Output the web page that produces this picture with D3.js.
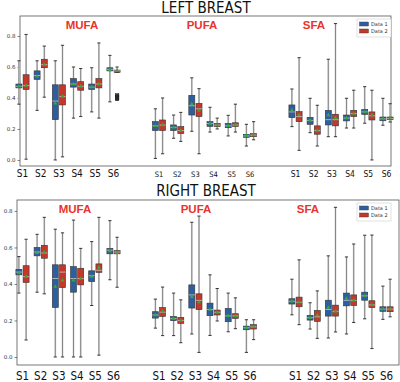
<!DOCTYPE html>
<html>
<head>
<meta charset="utf-8">
<script src="https://cdn.jsdelivr.net/npm/d3@7"></script>
<style>
  body { margin: 0; background: #fff; }
  svg { display: block; }
</style>
</head>
<body>
<svg id="chart"></svg>
<script>
// groups and samples
var groups = ["MUFA", "PUFA", "SFA"]
var samples = ["S1", "S2", "S3", "S4", "S5", "S6"]
var yTicks = [0.0, 0.2, 0.4, 0.6, 0.8]
var seriesNames = ["Data 1", "Data 2"]

// rows: [whiskerLow, q1, median, q3, whiskerHigh, mean]
// order: MUFA S1..S6, PUFA S1..S6, SFA S1..S6
var leftData1 = [
  [0.36, 0.465, 0.475, 0.49, 0.64, 0.475],
  [0.32, 0.52, 0.545, 0.575, 0.64, 0.54],
  [0.0, 0.26, 0.38, 0.485, 0.64, 0.365],
  [0.27, 0.47, 0.49, 0.525, 0.60, 0.49],
  [0.31, 0.455, 0.47, 0.49, 0.595, 0.47],
  [0.375, 0.575, 0.585, 0.595, 0.675, 0.58],
  [0.01, 0.19, 0.22, 0.247, 0.33, 0.22],
  [0.14, 0.19, 0.21, 0.226, 0.29, 0.21],
  [0.185, 0.29, 0.35, 0.417, 0.53, 0.36],
  [0.18, 0.217, 0.235, 0.247, 0.34, 0.235],
  [0.155, 0.208, 0.22, 0.236, 0.288, 0.22],
  [0.09, 0.146, 0.155, 0.165, 0.23, 0.155],
  [0.215, 0.273, 0.31, 0.355, 0.458, 0.32],
  [0.176, 0.23, 0.255, 0.275, 0.398, 0.255],
  [0.15, 0.226, 0.26, 0.32, 0.65, 0.29],
  [0.206, 0.252, 0.27, 0.29, 0.398, 0.27],
  [0.237, 0.294, 0.31, 0.326, 0.473, 0.31],
  [0.224, 0.253, 0.265, 0.277, 0.398, 0.265]
]
var leftData2 = [
  [0.005, 0.455, 0.48, 0.55, 0.81, 0.48],
  [0.405, 0.595, 0.615, 0.65, 0.735, 0.615],
  [0.02, 0.355, 0.41, 0.485, 0.74, 0.41],
  [0.28, 0.45, 0.475, 0.505, 0.59, 0.475],
  [0.27, 0.465, 0.49, 0.525, 0.755, 0.49],
  [0.565, 0.565, 0.575, 0.58, 0.60, 0.575],
  [0.04, 0.19, 0.225, 0.258, 0.40, 0.225],
  [0.12, 0.17, 0.19, 0.215, 0.307, 0.19],
  [0.04, 0.28, 0.33, 0.365, 0.46, 0.32],
  [0.20, 0.215, 0.225, 0.236, 0.27, 0.225],
  [0.18, 0.215, 0.225, 0.24, 0.36, 0.225],
  [0.13, 0.15, 0.16, 0.17, 0.247, 0.16],
  [0.062, 0.247, 0.28, 0.312, 0.66, 0.29],
  [0.09, 0.166, 0.19, 0.22, 0.353, 0.19],
  [0.15, 0.22, 0.26, 0.295, 0.88, 0.27],
  [0.206, 0.28, 0.30, 0.32, 0.45, 0.30],
  [0.0, 0.258, 0.285, 0.31, 0.45, 0.29],
  [0.245, 0.26, 0.268, 0.277, 0.363, 0.268]
]
var rightData1 = [
  [0.35, 0.45, 0.465, 0.48, 0.55, 0.46],
  [0.355, 0.554, 0.575, 0.60, 0.672, 0.57],
  [0.0, 0.271, 0.43, 0.505, 0.70, 0.385],
  [0.0, 0.355, 0.43, 0.495, 0.75, 0.42],
  [0.282, 0.413, 0.445, 0.472, 0.632, 0.44],
  [0.423, 0.565, 0.585, 0.595, 0.747, 0.58],
  [0.158, 0.213, 0.23, 0.248, 0.317, 0.23],
  [0.117, 0.199, 0.21, 0.222, 0.35, 0.21],
  [0.126, 0.268, 0.34, 0.395, 0.738, 0.33],
  [0.118, 0.226, 0.26, 0.295, 0.45, 0.26],
  [0.138, 0.193, 0.225, 0.266, 0.35, 0.225],
  [0.025, 0.149, 0.16, 0.169, 0.204, 0.16],
  [0.231, 0.29, 0.305, 0.319, 0.426, 0.305],
  [0.153, 0.202, 0.215, 0.228, 0.297, 0.215],
  [0.104, 0.224, 0.26, 0.311, 0.554, 0.27],
  [0.126, 0.28, 0.31, 0.35, 0.548, 0.32],
  [0.209, 0.311, 0.335, 0.355, 0.667, 0.335],
  [0.206, 0.25, 0.262, 0.275, 0.388, 0.262]
]
var rightData2 = [
  [0.093, 0.408, 0.44, 0.50, 0.645, 0.44],
  [0.346, 0.541, 0.57, 0.612, 0.765, 0.575],
  [0.0, 0.38, 0.465, 0.505, 0.68, 0.42],
  [0.0, 0.395, 0.43, 0.486, 0.595, 0.43],
  [0.01, 0.463, 0.475, 0.51, 0.765, 0.49],
  [0.382, 0.565, 0.575, 0.583, 0.656, 0.57],
  [0.117, 0.222, 0.245, 0.271, 0.383, 0.25],
  [0.078, 0.184, 0.20, 0.217, 0.313, 0.20],
  [0.025, 0.259, 0.31, 0.346, 0.772, 0.30],
  [0.197, 0.23, 0.245, 0.257, 0.375, 0.245],
  [0.155, 0.211, 0.225, 0.237, 0.324, 0.225],
  [0.095, 0.153, 0.165, 0.177, 0.204, 0.165],
  [0.177, 0.275, 0.30, 0.328, 0.532, 0.30],
  [0.102, 0.195, 0.22, 0.255, 0.362, 0.23],
  [0.137, 0.224, 0.25, 0.284, 0.82, 0.25],
  [0.189, 0.282, 0.31, 0.34, 0.619, 0.31],
  [0.046, 0.271, 0.285, 0.308, 0.668, 0.285],
  [0.22, 0.248, 0.262, 0.275, 0.426, 0.262]
]
// outlier points: [rowIndex, value]
var leftFliers2 = [[5, 0.39], [5, 0.40], [5, 0.41], [5, 0.42]]

var colors = ["#2d5fa0", "#c4382c"]
var labelRed = "#e8352a"

var svg = d3.select("#chart")
    .attr("width", 400)
    .attr("height", 382)

// panel settings (sizes of labels differ a bit between the pasted panels)
var panels = [
  {title: "LEFT BREAST", titleY: 13, left: 20, right: 391, top: 16, bottom: 166,
   domain: [-0.039, 0.929], d1: leftData1, d2: leftData2, fliers: leftFliers2,
   labelY: 177, labelSize: [10, 7.5, 8.5], groupY: 29, groupX: [82, 202, 314],
   legendY: 19},
  {title: "RIGHT BREAST", titleY: 196, left: 17, right: 399, top: 200, bottom: 365,
   domain: [-0.044, 0.86], d1: rightData1, d2: rightData2, fliers: [],
   labelY: 380, labelSize: [11.5, 11.5, 11.5], groupY: 213, groupX: [75, 196, 308],
   legendY: 203}
]

var groupX = d3.scalePoint().domain(groups).range([68, 341])
var sampleX = d3.scalePoint().domain(samples).range([-45.5, 45.5])
var boxW = 6

panels.forEach(function (p) {
  var y = d3.scaleLinear().domain(p.domain).range([p.bottom, p.top])
  var g = svg.append("g")

  // title
  svg.append("text")
    .attr("x", 206).attr("y", p.titleY)
    .attr("text-anchor", "middle")
    .attr("font-family", "'Liberation Sans Narrow', 'DejaVu Sans Condensed', sans-serif")
    .attr("font-size", 15)
    .attr("fill", "#111")
    .text(p.title)

  // frame
  g.append("rect")
    .attr("x", p.left).attr("y", p.top)
    .attr("width", p.right - p.left).attr("height", p.bottom - p.top)
    .attr("fill", "none").attr("stroke", "#555").attr("stroke-width", 0.8)

  // y axis
  var yAxis = d3.axisLeft(y).tickValues(yTicks).tickFormat(d3.format(".1f")).tickSize(2.5)
  var ax = g.append("g").attr("transform", `translate(${p.left},0)`).call(yAxis)
  ax.select(".domain").remove()
  ax.selectAll("text").attr("font-size", 5.5).attr("fill", "#333")
    .attr("font-family", "'DejaVu Sans', sans-serif").attr("dx", 1)
  ax.selectAll("line").attr("stroke", "#333").attr("stroke-width", 0.6)

  // group labels
  groups.forEach(function (gr, gi) {
    g.append("text")
      .attr("x", p.groupX[gi]).attr("y", p.groupY)
      .attr("text-anchor", "middle")
      .attr("font-family", "'Liberation Sans', Arial, sans-serif")
      .attr("font-weight", "bold")
      .attr("font-size", 11.5)
      .attr("fill", labelRed)
      .text(gr)

    samples.forEach(function (s) {
      g.append("text")
        .attr("x", groupX(gr) + sampleX(s)).attr("y", p.labelY)
        .attr("text-anchor", "middle")
        .attr("font-family", "'Liberation Sans Narrow', 'DejaVu Sans Condensed', sans-serif")
        .attr("font-size", p.labelSize[gi])
        .attr("fill", "#111")
        .text(s)
    })
  })

  // boxes
  var rows = []
  ;[p.d1, p.d2].forEach(function (arr, si) {
    arr.forEach(function (r, i) {
      rows.push({group: groups[Math.floor(i / 6)], sample: samples[i % 6], series: si,
        lo: r[0], q1: r[1], med: r[2], q3: r[3], hi: r[4], mean: r[5]})
    })
  })
  var cx = d => groupX(d.group) + sampleX(d.sample) + (d.series === 0 ? -3.6 : 3.6)

  var box = g.selectAll(".box").data(rows).enter().append("g").attr("class", "box")
  // whisker halo + line
  box.append("line")
    .attr("x1", cx).attr("x2", cx)
    .attr("y1", d => y(d.lo)).attr("y2", d => y(d.hi))
    .attr("stroke", "#d2d2d2").attr("stroke-width", 1.8)
  box.append("line")
    .attr("x1", cx).attr("x2", cx)
    .attr("y1", d => y(d.lo)).attr("y2", d => y(d.hi))
    .attr("stroke", "#666").attr("stroke-width", 0.7)
  // caps
  ;["lo", "hi"].forEach(function (k) {
    box.append("line")
      .attr("x1", d => cx(d) - 1.6).attr("x2", d => cx(d) + 1.6)
      .attr("y1", d => y(d[k])).attr("y2", d => y(d[k]))
      .attr("stroke", "#222").attr("stroke-width", 0.9)
  })
  box.append("rect")
    .attr("x", d => cx(d) - boxW / 2).attr("width", boxW)
    .attr("y", d => y(d.q3)).attr("height", d => Math.max(1, y(d.q1) - y(d.q3)))
    .attr("fill", d => colors[d.series])
    .attr("stroke", "#333").attr("stroke-width", 0.6)
  box.append("line")
    .attr("x1", d => cx(d) - boxW / 2).attr("x2", d => cx(d) + boxW / 2)
    .attr("y1", d => y(d.med)).attr("y2", d => y(d.med))
    .attr("stroke", "#d8d8d8").attr("stroke-width", 0.7)
  box.append("path")
    .attr("d", d3.symbol(d3.symbolTriangle, 7))
    .attr("transform", d => `translate(${cx(d)},${y(d.mean)})`)
    .attr("fill", "#3aa83a")

  // fliers
  g.selectAll(".flier").data(p.fliers).enter().append("rect")
    .attr("class", "flier")
    .attr("x", d => groupX(groups[Math.floor(d[0] / 6)]) + sampleX(samples[d[0] % 6]) + 3.6 - 1.8)
    .attr("y", d => y(d[1]) - 1.2)
    .attr("width", 3.6).attr("height", 2.4)
    .attr("fill", "#333").attr("stroke", "#111").attr("stroke-width", 0.4)

  // legend
  var lg = g.append("g").attr("transform", `translate(357,${p.legendY})`)
  lg.append("rect").attr("width", 34).attr("height", 18)
    .attr("fill", "#fff").attr("stroke", "#ccc").attr("stroke-width", 0.6)
  seriesNames.forEach(function (n, i) {
    lg.append("rect").attr("x", 2.5).attr("y", 3 + i * 7).attr("width", 9).attr("height", 4)
      .attr("fill", colors[i]).attr("stroke", "#333").attr("stroke-width", 0.4)
    lg.append("text").attr("x", 14).attr("y", 7 + i * 7)
      .attr("font-size", 5).attr("font-family", "'DejaVu Sans', sans-serif")
      .attr("fill", "#333").text(n)
  })
})
</script>
</body>
</html>
